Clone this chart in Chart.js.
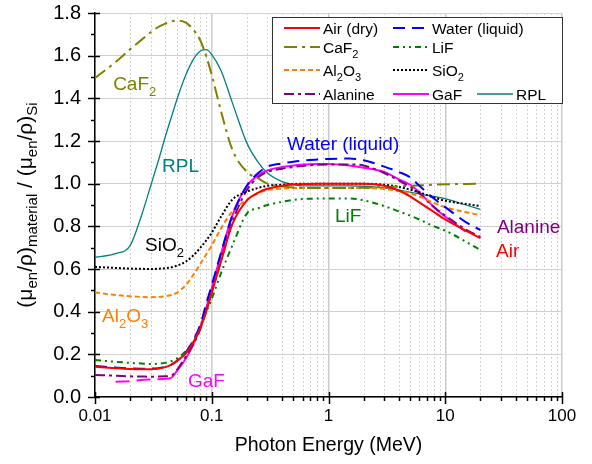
<!DOCTYPE html>
<html>
<head>
<meta charset="utf-8">
<title>Energy absorption ratio to Si</title>
<script src="https://cdn.jsdelivr.net/npm/chart.js"></script>
<style>
  html, body { margin: 0; padding: 0; background: #fff; }
</style>
</head>
<body>
<canvas id="ratioChart" width="592" height="464"></canvas>
<script>
// photon energies (MeV) shared by all curves
const energy = [0.01, 0.015, 0.02, 0.025, 0.03, 0.035, 0.04, 0.045, 0.05, 0.06, 0.07, 0.08, 0.09, 0.1,
                0.12, 0.15, 0.2, 0.25, 0.3, 0.4, 0.5, 0.6, 0.8, 1, 1.5, 2, 3, 4, 5, 6, 8, 10, 15, 20];

// (mu_en/rho) of each material divided by that of Si
const air     = [0.142, 0.135, 0.131, 0.130, 0.130, 0.133, 0.140, 0.152, 0.168, 0.205, 0.260, 0.325, 0.405, 0.490,
                 0.635, 0.810, 0.922, 0.958, 0.976, 0.990, 0.996, 0.998, 1.000, 1.000, 1.000, 1.000, 0.990, 0.968, 0.940, 0.912, 0.867, 0.832, 0.780, 0.745];
const water   = [0.145, 0.138, 0.134, 0.133, 0.133, 0.135, 0.142, 0.152, 0.168, 0.210, 0.270, 0.340, 0.440, 0.525,
                 0.675, 0.850, 0.990, 1.050, 1.080, 1.095, 1.103, 1.108, 1.113, 1.116, 1.118, 1.110, 1.080, 1.055, 1.030, 0.990, 0.930, 0.890, 0.820, 0.783];
const caf2    = [1.495, 1.570, 1.630, 1.674, 1.710, 1.735, 1.750, 1.760, 1.764, 1.755, 1.720, 1.670, 1.595, 1.510,
                 1.340, 1.160, 1.055, 1.025, 1.000, 0.988, 0.982, 0.980, 0.980, 0.980, 0.980, 0.981, 0.984, 0.987, 0.990, 0.992, 0.995, 0.997, 0.999, 1.000];
const lif     = [0.173, 0.165, 0.160, 0.157, 0.155, 0.156, 0.160, 0.168, 0.180, 0.215, 0.265, 0.330, 0.400, 0.460,
                 0.580, 0.710, 0.860, 0.885, 0.900, 0.915, 0.924, 0.928, 0.930, 0.931, 0.931, 0.922, 0.895, 0.870, 0.850, 0.832, 0.800, 0.780, 0.728, 0.689];
const al2o3   = [0.490, 0.478, 0.472, 0.469, 0.468, 0.469, 0.472, 0.478, 0.488, 0.525, 0.575, 0.625, 0.670, 0.710,
                 0.790, 0.870, 0.925, 0.955, 0.970, 0.977, 0.980, 0.980, 0.980, 0.980, 0.980, 0.980, 0.975, 0.965, 0.955, 0.940, 0.910, 0.890, 0.866, 0.853];
const sio2    = [0.610, 0.605, 0.602, 0.601, 0.600, 0.601, 0.604, 0.608, 0.615, 0.635, 0.665, 0.700, 0.735, 0.770,
                 0.845, 0.925, 0.962, 0.980, 0.990, 0.995, 0.998, 1.000, 1.000, 1.000, 1.000, 1.000, 0.995, 0.985, 0.972, 0.960, 0.935, 0.920, 0.905, 0.895];
const alanine = [0.103, 0.100, 0.097, 0.096, 0.095, 0.096, 0.097, 0.100, 0.125, 0.190, 0.250, 0.320, 0.410, 0.490,
                 0.640, 0.820, 0.970, 1.030, 1.055, 1.070, 1.078, 1.083, 1.088, 1.090, 1.090, 1.085, 1.050, 1.015, 0.985, 0.955, 0.890, 0.850, 0.785, 0.750];
const gaf     = [null, 0.072, 0.074, 0.080, 0.082, 0.083, 0.085, 0.090, 0.120, 0.180, 0.250, 0.330, 0.420, 0.510,
                 0.670, 0.850, 0.990, 1.040, 1.062, 1.078, 1.085, 1.090, 1.092, 1.092, 1.085, 1.075, 1.055, 1.020, 0.995, 0.960, 0.890, 0.845, 0.775, null];
const rpl     = [0.655, 0.672, 0.710, 0.850, 0.990, 1.110, 1.220, 1.310, 1.390, 1.510, 1.585, 1.622, 1.628, 1.605,
                 1.530, 1.380, 1.190, 1.100, 1.050, 1.010, 0.996, 0.990, 0.990, 0.990, 0.990, 0.988, 0.980, 0.970, 0.960, 0.952, 0.940, 0.930, 0.900, 0.880];

const xGrid = [];
[0.01, 0.1, 1, 10].forEach(d => { for (let k = 1; k <= 9; k++) xGrid.push(+(d * k).toPrecision(3)); });
xGrid.push(100);
const yGrid = [0, 0.2, 0.4, 0.6, 0.8, 1.0, 1.2, 1.4, 1.6, 1.8];
const yMinor = [0.1, 0.3, 0.5, 0.7, 0.9, 1.1, 1.3, 1.5, 1.7];

const FONT = '"Liberation Sans", Arial, sans-serif';
Chart.defaults.font.family = FONT;
Chart.defaults.color = '#000';

function isDecade(v) {
  const l = Math.log10(v);
  return Math.abs(l - Math.round(l)) < 1e-9;
}

function pts(vals) {
  return energy.map((e, i) => ({ x: e, y: vals[i] }));
}

function series(label, vals, color, dash, width) {
  return {
    label: label,
    data: pts(vals),
    borderColor: color,
    backgroundColor: color,
    borderDash: dash,
    borderWidth: width || 2,
    pointRadius: 0,
    fill: false,
    spanGaps: false,
    cubicInterpolationMode: 'monotone'
  };
}

const datasets = [
  series('Air (dry)', air, '#ff0000', []),
  series('Water (liquid)', water, '#0000ff', [12, 7]),
  series('CaF_2', caf2, '#808000', [13, 5, 3, 5]),
  series('LiF', lif, '#008000', [6, 4, 2, 4, 2, 4]),
  series('Al_2O_3', al2o3, '#ff8000', [5, 3]),
  series('SiO_2', sio2, '#000000', [2, 2]),
  series('Alanine', alanine, '#800080', [10, 4, 3, 4]),
  series('GaF', gaf, '#ff00ff', []),
  series('RPL', rpl, '#008080', [], 1.3)
];
// low-energy part of GaF is drawn broken
datasets[7].segment = { borderDash: c => c.p1.parsed.x <= 0.045 ? [14, 7] : undefined };

// splits "_x" or "_{xyz}" subscripts out of a label
function richParts(str) {
  const parts = [];
  let i = 0, buf = '';
  while (i < str.length) {
    if (str[i] === '_') {
      if (buf) { parts.push([buf, false]); buf = ''; }
      if (str[i + 1] === '{') {
        const end = str.indexOf('}', i);
        parts.push([str.slice(i + 2, end), true]);
        i = end + 1;
      } else {
        parts.push([str[i + 1], true]);
        i += 2;
      }
    } else {
      buf += str[i++];
    }
  }
  if (buf) parts.push([buf, false]);
  return parts;
}

function richWidth(ctx, str, size, subSize) {
  let w = 0;
  for (const [t, sub] of richParts(str)) {
    ctx.font = (sub ? subSize : size) + 'px ' + FONT;
    w += ctx.measureText(t).width;
  }
  return w;
}

function drawRich(ctx, str, x, y, size, subSize, drop) {
  let cx = x;
  ctx.textAlign = 'left';
  ctx.textBaseline = 'alphabetic';
  for (const [t, sub] of richParts(str)) {
    ctx.font = (sub ? subSize : size) + 'px ' + FONT;
    ctx.fillText(t, cx, y + (sub ? drop : 0));
    cx += ctx.measureText(t).width;
  }
}

// text labels next to the curves, placed in data coordinates (left, baseline)
const notes = [
  { text: 'CaF_2', x: 0.0143, y: 1.439, color: '#808000' },
  { text: 'RPL', x: 0.0375, y: 1.055, color: '#008080' },
  { text: 'Water (liquid)', x: 0.441, y: 1.158, color: '#0000ff' },
  { text: 'SiO_2', x: 0.0268, y: 0.684, color: '#000000' },
  { text: 'Al_2O_3', x: 0.0115, y: 0.352, color: '#ff8000' },
  { text: 'GaF', x: 0.0626, y: 0.047, color: '#ff00ff' },
  { text: 'LiF', x: 1.137, y: 0.82, color: '#008000' },
  { text: 'Alanine', x: 27.7, y: 0.769, color: '#800080' },
  { text: 'Air', x: 27.2, y: 0.656, color: '#ff0000' }
];

// legend layout: dataset index, column, row
const legendCells = [[0, 0, 0], [1, 1, 0], [2, 0, 1], [3, 1, 1], [4, 0, 2], [5, 1, 2], [6, 0, 3], [7, 1, 3], [8, 2, 3]];

const extras = {
  id: 'extras',
  beforeDatasetsDraw(chart) {
    const { ctx, chartArea: a, scales: { x } } = chart;
    ctx.save();
    ctx.strokeStyle = '#d4d4d4';
    ctx.lineWidth = 1;
    ctx.setLineDash([2, 2]);
    xGrid.filter(v => !isDecade(v)).forEach(v => {
      const px = Math.round(x.getPixelForValue(v)) + 0.5;
      ctx.beginPath();
      ctx.moveTo(px, a.top);
      ctx.lineTo(px, a.bottom);
      ctx.stroke();
    });
    ctx.restore();
  },
  afterDatasetsDraw(chart) {
    const { ctx, chartArea: a, scales: { x, y } } = chart;
    ctx.save();

    // tick marks
    ctx.strokeStyle = '#000';
    ctx.lineWidth = 1.5;
    ctx.setLineDash([]);
    xGrid.forEach(v => {
      const px = Math.round(x.getPixelForValue(v)) + 0.5;
      const major = isDecade(v);
      ctx.beginPath();
      ctx.moveTo(px, a.bottom - (major ? 5 : 0));
      ctx.lineTo(px, a.bottom + (major ? 7 : 4));
      ctx.stroke();
    });
    yGrid.forEach(v => {
      const py = Math.round(y.getPixelForValue(v)) + 0.5;
      ctx.beginPath();
      ctx.moveTo(a.left - 7, py);
      ctx.lineTo(a.left + 5, py);
      ctx.stroke();
    });
    yMinor.forEach(v => {
      const py = Math.round(y.getPixelForValue(v)) + 0.5;
      ctx.beginPath();
      ctx.moveTo(a.left - 4, py);
      ctx.lineTo(a.left, py);
      ctx.stroke();
    });

    // curve labels
    notes.forEach(n => {
      ctx.fillStyle = n.color;
      drawRich(ctx, n.text, x.getPixelForValue(n.x), y.getPixelForValue(n.y), 19, 13, 6);
    });

    // legend box
    const bx = 272, by = 17, bw = 290, bh = 86;
    ctx.fillStyle = '#fff';
    ctx.fillRect(bx, by, bw, bh);
    ctx.strokeStyle = '#333';
    ctx.lineWidth = 1;
    ctx.strokeRect(bx + 0.5, by + 0.5, bw, bh);
    const colX = [284, 393, 477];
    const rowY = [28, 47, 70, 94];
    legendCells.forEach(([di, col, row]) => {
      const ds = chart.data.datasets[di];
      const lx = colX[col], ly = rowY[row];
      ctx.strokeStyle = ds.borderColor;
      ctx.lineWidth = ds.borderWidth;
      ctx.setLineDash(ds.borderDash || []);
      ctx.beginPath();
      ctx.moveTo(lx, ly);
      ctx.lineTo(lx + 36, ly);
      ctx.stroke();
      ctx.setLineDash([]);
      ctx.fillStyle = '#000';
      drawRich(ctx, ds.label, lx + 39, ly + 6, 15.5, 11, 5);
    });
    ctx.restore();
  },
  afterDraw(chart) {
    const { ctx, chartArea: a } = chart;
    const title = '(\u03bc_{en}/\u03c1)_{material} / (\u03bc_{en}/\u03c1)_{Si}';
    ctx.save();
    ctx.fillStyle = '#000';
    const w = richWidth(ctx, title, 21, 15);
    ctx.translate(32, (a.top + a.bottom) / 2);
    ctx.rotate(-Math.PI / 2);
    drawRich(ctx, title, -w / 2, 0, 21, 15, 5);
    ctx.restore();
  }
};

// keep the plot box fixed: no extra room for overhanging tick labels
function noOverhang(s) {
  s.paddingTop = 0;
  s.paddingBottom = 0;
  s.paddingLeft = 0;
  s.paddingRight = 0;
}

new Chart(document.getElementById('ratioChart'), {
  type: 'line',
  data: { datasets: datasets },
  plugins: [extras],
  options: {
    responsive: false,
    animation: false,
    devicePixelRatio: 1,
    layout: { padding: { left: 0, top: 13, right: 30, bottom: 0 } },
    plugins: {
      legend: { display: false },
      tooltip: { enabled: false }
    },
    scales: {
      x: {
        type: 'logarithmic',
        min: 0.01,
        max: 100,
        afterBuildTicks: s => { s.ticks = xGrid.map(v => ({ value: v })); },
        afterFit: s => { s.height = 67; noOverhang(s); },
        ticks: {
          autoSkip: false,
          maxRotation: 0,
          padding: 9,
          font: { size: 17 },
          color: '#000',
          callback: v => isDecade(v) ? String(v) : ''
        },
        grid: {
          drawTicks: false,
          color: c => (c.tick && isDecade(c.tick.value)) ? '#cccccc' : 'rgba(0,0,0,0)',
          lineWidth: 1.5
        },
        border: { display: true, color: '#000', width: 1.5 },
        title: {
          display: true,
          text: 'Photon Energy (MeV)',
          font: { size: 19.5 },
          color: '#000',
          padding: { top: 4, bottom: 7 }
        }
      },
      y: {
        type: 'linear',
        min: 0,
        max: 1.8,
        afterBuildTicks: s => { s.ticks = yGrid.map(v => ({ value: v })); },
        afterFit: s => { s.width = 95; noOverhang(s); },
        ticks: {
          padding: 14,
          font: { size: 20 },
          color: '#000',
          callback: v => Number(v).toFixed(1)
        },
        grid: { drawTicks: false, color: '#d0d0d0', lineWidth: 1 },
        border: { display: true, color: '#000', width: 1.5 }
      }
    }
  }
});
</script>
</body>
</html>
